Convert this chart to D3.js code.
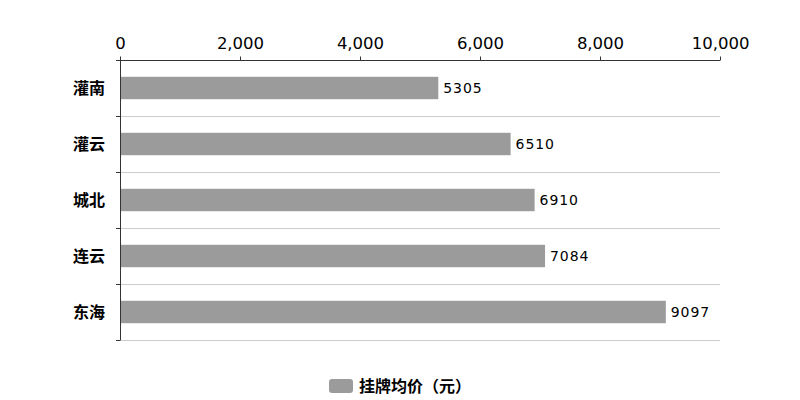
<!DOCTYPE html>
<html><head><meta charset="utf-8">
<script src="https://cdn.jsdelivr.net/npm/d3@7"></script>
<style>
body{margin:0;background:#fff;}
svg{display:block;}
</style></head>
<body><svg id="c" width="800" height="400"></svg>
<script>
const categories = ["灌南","灌云","城北","连云","东海"];
const values = [5305, 6510, 6910, 7084, 9097];
const xTicks = [0, 2000, 4000, 6000, 8000, 10000];
const seriesName = "挂牌均价（元）";

const svg = d3.select("#c");
const m = {l:120, r:80, t:60, b:60};
const W = 800, H = 400;
const x = d3.scaleLinear().domain([0,10000]).range([m.l, W-m.r]);
const y = d3.scaleBand().domain(categories).range([m.t, H-m.b]).paddingInner(0.6).paddingOuter(0.3);

// gridlines at band boundaries
const bounds = categories.map((c,i)=> m.t + i*y.step()).concat([H-m.b]);
svg.append("g").selectAll("line").data(bounds.slice(1)).join("line")
  .attr("x1", x(0)).attr("x2", x(10000))
  .attr("y1", d=>d+0.5).attr("y2", d=>d+0.5)
  .attr("stroke","#cccccc").attr("stroke-width",1);

// bars
svg.append("g").selectAll("rect").data(values).join("rect")
  .attr("x", x(0)+1).attr("y", (d,i)=>y(categories[i]))
  .attr("width", d=>x(d)-x(0)-1).attr("height", y.bandwidth())
  .attr("fill","#9b9b9b");

// value labels
svg.append("g").selectAll("text").data(values).join("text")
  .attr("x", d=>x(d)+5).attr("y", (d,i)=>y(categories[i])+y.bandwidth()/2)
  .attr("dy","0.35em")
  .attr("font-family","DejaVu Sans").attr("font-size",14).attr("letter-spacing","0.9px").attr("fill","#000")
  .text(d=>d);

// x axis top
const xAxis = d3.axisTop(x).tickValues(xTicks).tickSize(4).tickFormat(d3.format(","));
const gx = svg.append("g").attr("transform",`translate(0,${m.t+0.5})`).call(xAxis);
gx.select(".domain").attr("stroke","#333").attr("d", `M${x(0)},0H${x(10000)}`);
gx.selectAll(".tick line").attr("stroke","#333");
gx.selectAll("text").attr("font-family","DejaVu Sans").attr("font-size",16.5).attr("fill","#000").attr("dy","-0.25em");

// y axis left with ticks at boundaries
const gy = svg.append("g");
gy.append("line").attr("x1",x(0)+0.5).attr("x2",x(0)+0.5).attr("y1",m.t).attr("y2",H-m.b+0.5).attr("stroke","#333");
gy.selectAll("line.t").data(bounds).join("line").attr("class","t")
  .attr("x1",x(0)-4).attr("x2",x(0)).attr("y1",d=>d+0.5).attr("y2",d=>d+0.5).attr("stroke","#333");
gy.selectAll("text").data(categories).join("text")
  .attr("x", x(0)-15).attr("y", d=>y(d)+y.bandwidth()/2).attr("dy","0.35em")
  .attr("text-anchor","end").attr("font-family","Noto Sans CJK SC").attr("font-weight","bold")
  .attr("font-size",16).attr("fill","#000").text(d=>d);

// legend
const lg = svg.append("g");
lg.append("rect").attr("x",329).attr("y",379).attr("width",24).attr("height",14).attr("rx",3).attr("fill","#9b9b9b");
lg.append("text").attr("x",359).attr("y",386).attr("dy","0.35em")
  .attr("font-family","Noto Sans CJK SC").attr("font-weight","bold").attr("font-size",16).attr("fill","#000")
  .text(seriesName);
</script></body></html>
